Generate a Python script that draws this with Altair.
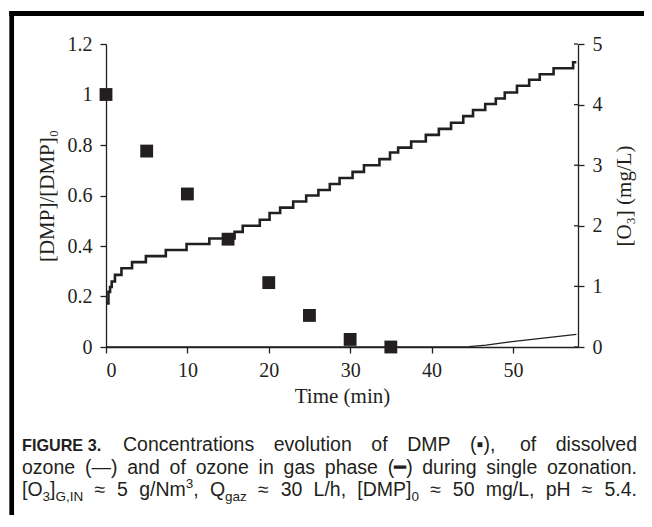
import altair as alt
import pandas as pd

INK = "#231f20"

# ---- data ----
dmp_time = [0, 5, 10, 15, 20, 25, 30, 35]
dmp_ratio = [1.0, 0.776, 0.606, 0.427, 0.255, 0.125, 0.03, 0.0]

gas_time = [0.0, 0.3, 0.5, 0.7, 1.1, 1.9, 3.2, 4.9, 7.35, 9.9, 12.7, 15.8, 16.8,
            18.9, 20.1, 21.4, 23.0, 24.6, 26.1, 27.5, 28.7, 30.3, 31.7, 33.6,
            34.9, 35.9, 37.5, 39.3, 40.9, 42.4, 43.9, 45.1, 46.6, 47.9, 49.0,
            50.5, 52.0, 53.3, 55.0, 57.4, 57.8]
gas_o3 = [0.72, 0.91, 0.99, 1.08, 1.19, 1.30, 1.40, 1.50, 1.60, 1.70, 1.79, 1.90,
          2.00, 2.10, 2.21, 2.30, 2.40, 2.50, 2.59, 2.69, 2.79, 2.89, 3.00, 3.10,
          3.21, 3.29, 3.39, 3.50, 3.60, 3.70, 3.81, 3.91, 4.01, 4.10, 4.20, 4.31,
          4.41, 4.50, 4.60, 4.70, 4.70]

diss_time = [0, 43, 44.6, 46.7, 49.9, 54.0, 57.8]
diss_o3 = [0, 0, 0.005, 0.03, 0.09, 0.15, 0.21]

x_ticks = [0, 10, 20, 30, 40, 50]
left_ticks = [0, 0.2, 0.4, 0.6, 0.8, 1, 1.2]
right_ticks = [0, 1, 2, 3, 4, 5]

W, H = 472, 303

df_dmp = pd.DataFrame({"t": dmp_time, "v": dmp_ratio})
df_gas = pd.DataFrame({"t": gas_time, "v": gas_o3})
df_diss = pd.DataFrame({"t": diss_time, "v": diss_o3})
df_rt = pd.DataFrame({"v": right_ticks})

xs = alt.Scale(domain=[0, 58], nice=False)
ys_left = alt.Scale(domain=[0, 1.2], nice=False)
ys_right = alt.Scale(domain=[0, 5], nice=False)

x_axis = alt.Axis(values=x_ticks, title="Time (min)", labelPadding=7, titlePadding=5)
left_axis = alt.Axis(values=left_ticks, format="~g", title="[DMP]/[DMP]₀",
                     labelPadding=8, titlePadding=10)
right_axis = alt.Axis(orient="right", values=right_ticks, title="[O₃] (mg/L)",
                      titleAngle=270, titleAlign="center", titleBaseline="middle",
                      titleX=46, titleY=H / 2, labelPadding=8)

X = alt.X("t:Q", scale=xs, axis=x_axis)

squares = alt.Chart(df_dmp).mark_square(size=165, color=INK, opacity=1).encode(
    x=X, y=alt.Y("v:Q", scale=ys_left, axis=left_axis))

YR = alt.Y("v:Q", scale=ys_right, axis=right_axis)

gas = alt.Chart(df_gas).mark_line(interpolate="step-after", color=INK,
                                  strokeWidth=2.6).encode(x=X, y=YR)
diss = alt.Chart(df_diss).mark_line(color=INK, strokeWidth=1.3).encode(x=X, y=YR)
inner_ticks = alt.Chart(df_rt).mark_rule(color=INK, strokeWidth=1.3).encode(
    x=alt.value(W - 4), x2=alt.value(W), y=YR)

right_group = alt.layer(gas, diss, inner_ticks)

# ---- caption layout helpers (Arial / Liberation Sans advance widths) ----
AW = {" ": 278, ".": 278, ",": 278, "(": 333, ")": 333, "[": 278, "]": 278,
      "/": 278, "—": 1000, "▪": 604, "━": 602, "≈": 584}
for ch in "0123456789":
    AW[ch] = 556
AW.update(dict(a=556, b=556, c=500, d=556, e=556, f=278, g=556, h=556, i=222,
               j=222, k=500, l=222, m=833, n=556, o=556, p=556, q=556, r=333,
               s=500, t=278, u=556, v=500, w=722, x=500, y=500, z=500))
AW.update(dict(A=667, B=667, C=722, D=722, E=667, F=611, G=778, H=722, I=278,
               L=556, M=833, N=722, O=778, P=667, Q=778, R=722, S=667, T=611))


def tw(s, size):
    return sum(AW.get(c, 556) for c in s) * size / 1000.0


def one():
    return alt.Chart(alt.Data(values=[{"a": 0}]))


def txt(s, x, y, size, weight="normal", align="left"):
    return one().mark_text(text=s, align=align, baseline="alphabetic",
                           font="Liberation Sans", fontSize=size,
                           fontWeight=weight, color=INK).encode(
        x=alt.value(x), y=alt.value(y))


FS, SS = 19.5, 13.5  # caption font size, sub/superscript size
OX, OY = 106, 44     # page position of plot origin


def justify(words, x0, x1, y):
    """words: list of lists of (text, dy, size) pieces; spread from x0 to x1."""
    widths = [sum(tw(s, sz) for s, dy, sz in w) for w in words]
    gap = (x1 - x0 - sum(widths)) / (len(words) - 1)
    out = []
    x = x0
    for w, wd in zip(words, widths):
        px = x
        for s, dy, sz in w:
            out.append(txt(s, px - OX, y - OY + dy, sz))
            px += tw(s, sz)
        x += wd + gap
    return out


def plain(line):
    return [[(w, 0, FS)] for w in line.split(" ")]


ann = []
# frame
ann.append(one().mark_rule(color="black", strokeWidth=5).encode(
    x=alt.value(9.3 - OX), x2=alt.value(560), y=alt.value(13.5 - OY)))
ann.append(one().mark_rule(color="black", strokeWidth=4.7).encode(
    x=alt.value(11.7 - OX), y=alt.value(11 - OY), y2=alt.value(480)))

Y1, Y2, Y3 = 450.5, 473.5, 496
ann.append(txt("FIGURE 3.", 22 - OX, Y1 - OY, 16.2, weight="bold"))
ann += justify(plain("Concentrations evolution of DMP (▪), of dissolved"), 123, 637, Y1)
ann += justify(plain("ozone (—) and of ozone in gas phase (━) during single ozonation."),
               22, 637, Y2)
line3 = [
    [("[O", 0, FS), ("3", 5, SS), ("]", 0, FS), ("G,IN", 5, SS)],
    [("≈", 0, FS)], [("5", 0, FS)],
    [("g/Nm", 0, FS), ("3", -8, SS), (",", 0, FS)],
    [("Q", 0, FS), ("gaz", 5, SS)],
    [("≈", 0, FS)], [("30", 0, FS)], [("L/h,", 0, FS)],
    [("[DMP]", 0, FS), ("0", 5, SS)],
    [("≈", 0, FS)], [("50", 0, FS)], [("mg/L,", 0, FS)],
    [("pH", 0, FS)], [("≈", 0, FS)], [("5.4.", 0, FS)],
]
ann += justify(line3, 22, 637, Y3)

chart = alt.layer(squares, right_group, *ann).resolve_scale(y="independent").properties(
    width=W, height=H,
    autosize=alt.AutoSizeParams(type="none"),
    padding={"left": 98, "top": 36, "right": 66, "bottom": 168},
).configure_view(stroke=None).configure_axis(
    grid=False, domainColor=INK, tickColor=INK, domainWidth=1.3, tickWidth=1.3,
    tickSize=6, labelFont="Liberation Serif", labelFontSize=20, labelColor=INK,
    titleFont="Liberation Serif", titleFontSize=21, titleFontWeight="normal",
    titleColor=INK,
)

chart.save("out.html", embed_options={"renderer": "svg", "actions": False})
